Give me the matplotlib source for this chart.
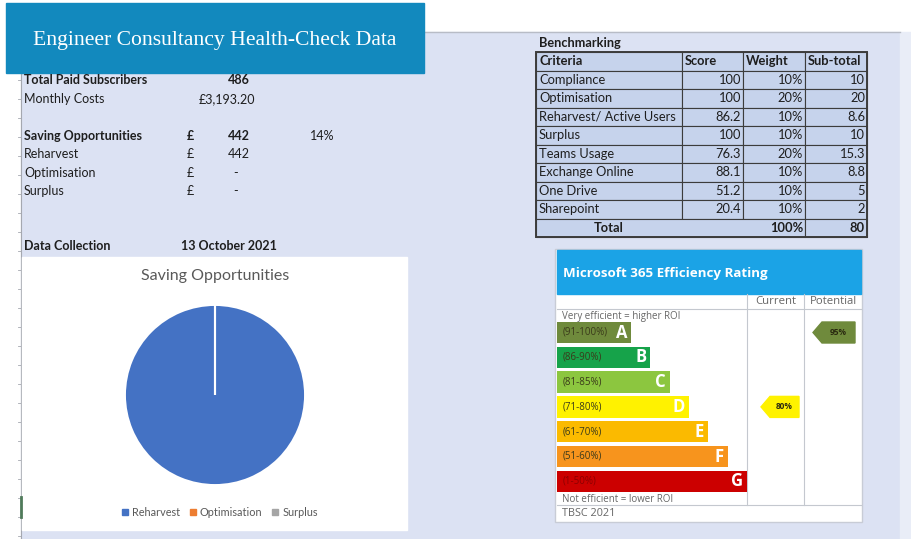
import matplotlib
matplotlib.use("Agg")
import matplotlib.pyplot as plt
from matplotlib.patches import Rectangle, Polygon
from matplotlib.lines import Line2D

# summary block
summary_labels = ["Total Paid Subscribers", "Monthly Costs"]
summary_values = ["486", "£3,193.20"]
saving_labels = ["Saving Opportunities", "Reharvest", "Optimisation", "Surplus"]
saving_values = [442, 442, 0, 0]
saving_share = "14%"
collection_date = "13 October 2021"

# pie
pie_labels = ["Reharvest", "Optimisation", "Surplus"]
pie_values = [442, 0, 0]
pie_colors = ["#4472C4", "#ED7D31", "#A5A5A5"]

# benchmarking table
criteria = ["Compliance", "Optimisation", "Reharvest/ Active Users", "Surplus",
            "Teams Usage", "Exchange Online", "One Drive", "Sharepoint"]
scores = [100, 100, 86.2, 100, 76.3, 88.1, 51.2, 20.4]
weights = [10, 20, 10, 10, 20, 10, 10, 10]
subtotals = [10, 20, 8.6, 10, 15.3, 8.8, 5, 2]

# efficiency rating
band_ranges = ["(91-100%)", "(86-90%)", "(81-85%)", "(71-80%)", "(61-70%)", "(51-60%)", "(1-50%)"]
band_letters = ["A", "B", "C", "D", "E", "F", "G"]
band_floor = [91, 86, 81, 71, 61, 51, 0]
band_colors = ["#6f8a3c", "#16a34a", "#8cc63f", "#fff200", "#fbba00", "#f7941d", "#cc0000"]
current_rating = 80
potential_rating = 95

W, H = 911, 539
FONT = "Lato"
fig = plt.figure(figsize=(W / 100, H / 100), dpi=100)
ax = fig.add_axes([0, 0, 1, 1])
ax.set_xlim(0, W)
ax.set_ylim(H, 0)
ax.axis("off")

# sheet background
ax.add_patch(Rectangle((21, 32), 879, 507, color="#dce2f3", zorder=0))
ax.add_patch(Rectangle((900, 32), 11, 507, color="#e9edf7", zorder=0))
ax.plot([21, 900], [32, 32], color="#b8bcc6", lw=1, zorder=1)
ax.plot([21, 21], [73, 539], color="#a5a8b0", lw=0.8, zorder=1)
for yy in range(80, 539, 19):
    ax.plot([18, 21], [yy, yy], color="#a5a8b0", lw=0.6, zorder=1)
ax.plot([21, 21], [497, 517], color="#4f7a5a", lw=2, zorder=2)

# title banner
ax.add_patch(Rectangle((6, 3), 418, 70, color="#1289be", zorder=3))
ax.text(215, 40, "Engineer Consultancy Health-Check Data", color="white",
        fontsize=15.6, family="Liberation Serif", ha="center", va="center", zorder=4)

# summary text
txt = dict(fontsize=9.0, family=FONT, color="#1e1e1e", va="center")
ax.text(24, 80, summary_labels[0], fontweight="bold", **txt)
ax.text(250, 80, summary_values[0], fontweight="bold", ha="right", **txt)
ax.text(24, 99, summary_labels[1], **txt)
ax.text(255, 99, summary_values[1], ha="right", **txt)
for i, (lab, val) in enumerate(zip(saving_labels, saving_values)):
    y = 136 + 18.4 * i
    bold = "bold" if i == 0 else "normal"
    ax.text(24, y, lab, fontweight=bold, **txt)
    ax.text(187, y, "£", fontweight=bold, **txt)
    if val:
        ax.text(250, y, f"{val}", fontweight=bold, ha="right", **txt)
    else:
        ax.text(233, y, "-", **txt)
ax.text(310, 136, saving_share, **txt)
ax.text(24, 246, "Data Collection", fontweight="bold", **txt)
ax.text(181, 246, collection_date, fontweight="bold", **txt)

# pie chart card
ax.add_patch(Rectangle((22, 257), 385, 273, color="white", zorder=1))
ax.text(215, 276, "Saving Opportunities", fontsize=11.5, family=FONT,
        color="#595959", ha="center", va="center")
pax = fig.add_axes([124 / W, 1 - 486 / H, 182 / W, 182 / H])
pax.pie(pie_values, colors=pie_colors, startangle=90, counterclock=False,
        wedgeprops=dict(edgecolor="white", linewidth=1.5))
pax.set_xlim(-1.01, 1.01)
pax.set_ylim(-1.01, 1.01)
pax.set_aspect("equal")
handles = [Line2D([], [], marker="s", ls="", color=c, markersize=4) for c in pie_colors]
leg = ax.legend(handles, pie_labels, loc="center", bbox_to_anchor=(218 / W, 1 - 512 / H),
                ncol=3, frameon=False, handletextpad=0.05, columnspacing=0.6,
                handlelength=1.2, prop=dict(family=FONT, size=7.8))
for t in leg.get_texts():
    t.set_color("#595959")

# benchmarking table
ax.text(539, 43, "Benchmarking", fontsize=9.2, family=FONT, fontweight="bold",
        color="#1e1e1e", va="center")
cols = [536, 682, 743, 805, 867]
row_h = 18.5
top = 52
cell = "#c6d3ec"
edge = "#3c3c3c"
ttxt = dict(txt, fontsize=9.3)
header = ["Criteria", "Score", "Weight", "Sub-total"]
rows = [[c, f"{s:g}", f"{w}%", f"{st:g}"] for c, s, w, st in zip(criteria, scores, weights, subtotals)]
for r, row in enumerate([header] + rows):
    y0 = top + r * row_h
    for c in range(4):
        ax.add_patch(Rectangle((cols[c], y0), cols[c + 1] - cols[c], row_h,
                               facecolor=cell, edgecolor=edge, lw=0.8, zorder=2))
        if r == 0:
            ax.text(cols[c] + 3, y0 + row_h / 2, row[c], fontweight="bold", zorder=3, **ttxt)
        elif c == 0:
            ax.text(cols[c] + 3, y0 + row_h / 2, row[c], zorder=3, **ttxt)
        else:
            ax.text(cols[c + 1] - 2, y0 + row_h / 2, row[c], ha="right", zorder=3, **ttxt)
y0 = top + (len(rows) + 1) * row_h
ax.add_patch(Rectangle((cols[0], y0), cols[3] - cols[0], row_h,
                       facecolor=cell, edgecolor=edge, lw=0.8, zorder=2))
ax.add_patch(Rectangle((cols[3], y0), cols[4] - cols[3], row_h,
                       facecolor=cell, edgecolor=edge, lw=0.8, zorder=2))
ax.text((cols[0] + cols[1]) / 2, y0 + row_h / 2, "Total", fontweight="bold", ha="center", zorder=3, **ttxt)
ax.text(cols[3] - 2, y0 + row_h / 2, f"{sum(weights)}%", fontweight="bold", ha="right", zorder=3, **ttxt)
ax.text(cols[4] - 2, y0 + row_h / 2, f"{sum(subtotals):.0f}", fontweight="bold", ha="right", zorder=3, **ttxt)
ax.add_patch(Rectangle((cols[0], top), cols[4] - cols[0], (len(rows) + 2) * row_h,
                       fill=False, edgecolor=edge, lw=1.4, zorder=3))

# efficiency rating card
ax.add_patch(Rectangle((555, 249), 307, 273, facecolor="white", edgecolor="#c8ccd6", lw=1, zorder=1))
ax.add_patch(Rectangle((557, 250), 304, 44, color="#1ba3e6", zorder=2))
ax.text(563, 273, "Microsoft 365 Efficiency Rating", color="white", fontsize=9.6,
        family="Open Sans", fontweight="bold", va="center", zorder=3)
grid = "#c4c8cf"
ax.plot([557, 861], [309, 309], color=grid, lw=0.8, zorder=2)
ax.plot([557, 861], [505, 505], color=grid, lw=0.8, zorder=2)
ax.plot([747, 747], [294, 505], color=grid, lw=0.8, zorder=2)
ax.plot([804, 804], [294, 505], color=grid, lw=0.8, zorder=2)
small = dict(family="Open Sans", color="#666666", va="center", zorder=3)
ax.text(776, 302, "Current", ha="center", fontsize=8.2, **small)
ax.text(833, 302, "Potential", ha="center", fontsize=8.2, **small)
ax.text(562, 316, "Very efficient = higher ROI", fontsize=7, **small)
ax.text(562, 499, "Not efficient = lower ROI", fontsize=7, **small)
ax.text(562, 514, "TBSC 2021", fontsize=7.8, **small)

pitch = 24.8
centers = [332.5 + pitch * i for i in range(len(band_letters))]
lengths = [74 + 19.3 * i for i in range(len(band_letters))]
ax.barh(centers, lengths, left=557, height=21.5, color=band_colors, zorder=2)
for i, (rng, let) in enumerate(zip(band_ranges, band_letters)):
    tc = "#8b0000" if let == "G" else "#3a3a1a"
    ax.text(563, centers[i], rng, fontsize=7, family="Open Sans", color=tc,
            va="center", zorder=3)
    ax.text(557 + lengths[i] - 4, centers[i], let, fontsize=12, family="Open Sans",
            fontweight="bold", color="white", ha="right", va="center", zorder=3)


def band_of(v):
    for i, f in enumerate(band_floor):
        if v >= f:
            return i
    return len(band_floor) - 1


def arrow(x_tip, x_end, v):
    i = band_of(v)
    yc = centers[i]
    h = 10.5
    pts = [(x_tip, yc), (x_tip + 9, yc - h), (x_end, yc - h), (x_end, yc + h), (x_tip + 9, yc + h)]
    ax.add_patch(Polygon(pts, closed=True, color=band_colors[i], zorder=3))
    ax.text((x_tip + x_end) / 2 + 4, yc, f"{v}%", fontsize=6, family="Open Sans",
            fontweight="bold", color="#2a2a10", ha="center", va="center", zorder=4)


arrow(761, 799, current_rating)
arrow(813, 855, potential_rating)

fig.savefig("out.png", dpi=100)
